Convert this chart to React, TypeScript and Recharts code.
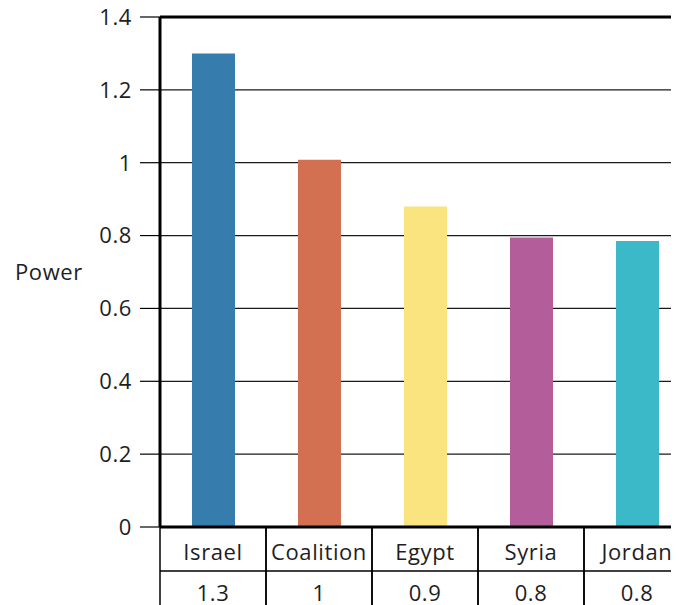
import React from 'react';
import { BarChart, Bar, XAxis, YAxis, CartesianGrid, ReferenceLine, Cell } from 'recharts';

const countries = ['Israel', 'Coalition', 'Egypt', 'Syria', 'Jordan'];
const power = [1.3, 1.008, 0.88, 0.795, 0.785];
const barColors = ['#367DAD', '#D37051', '#FAE480', '#B35E9A', '#3CB9C8'];
const yTicks = [0, 0.2, 0.4, 0.6, 0.8, 1, 1.2, 1.4];

const data = countries.map((name, i) => ({ name, power: power[i] }));

const FONT = "'Open Sans', 'DejaVu Sans', sans-serif";
const TEXT = { fontSize: 22, fontFamily: FONT, fill: '#1e1e1e', letterSpacing: 0.6 };
const CHART_W = 700;
const CHART_H = 620;
const MARGIN = { top: 17, right: 10, bottom: 0, left: 0 };
const Y_AXIS_W = 160;
const PLOT_W = CHART_W - MARGIN.left - MARGIN.right - Y_AXIS_W;
const TABLE_H = 93;

// table cell under each bar: name row + value row
const TableTick = (props: any) => {
  const { x, y, payload } = props;
  const band = PLOT_W / countries.length;
  const left = x - band / 2;
  const right = x + band / 2;
  const v = power[payload.index];
  const label = Number(v.toFixed(1)).toString();
  return (
    <g>
      <line x1={left} y1={y} x2={left} y2={y + TABLE_H} stroke="#000" strokeWidth={1.5} />
      <line x1={right} y1={y} x2={right} y2={y + TABLE_H} stroke="#000" strokeWidth={1.5} />
      <line x1={left} y1={y + 44} x2={right} y2={y + 44} stroke="#000" strokeWidth={1.5} />
      <text x={x} y={y + 33} textAnchor="middle" {...TEXT}>
        {payload.value}
      </text>
      <text x={x} y={y + 74} textAnchor="middle" {...TEXT}>
        {label}
      </text>
    </g>
  );
};

export default function App() {
  // body keeps its 8px margin; the inner block is pulled back so the chart starts at page 0,0
  return (
    <div style={{ width: 671, height: 597, overflow: 'hidden', background: '#fff' }}>
      <div style={{ marginLeft: -8, marginTop: -8, width: CHART_W, height: CHART_H }}>
        <BarChart width={CHART_W} height={CHART_H} data={data} margin={MARGIN}>
          <CartesianGrid horizontal vertical={false} stroke="#1a1a1a" strokeWidth={1.2} />
          <XAxis
            dataKey="name"
            height={TABLE_H}
            axisLine={{ stroke: '#000', strokeWidth: 3 }}
            tickLine={false}
            tickSize={0}
            tickMargin={0}
            interval={0}
            tick={<TableTick />}
          />
          <YAxis
            width={Y_AXIS_W}
            domain={[0, 1.4]}
            ticks={yTicks}
            interval={0}
            axisLine={{ stroke: '#000', strokeWidth: 3 }}
            tickLine={{ stroke: '#000', strokeWidth: 1.2 }}
            tickSize={20}
            tickMargin={8}
            tick={TEXT}
            label={{ value: 'Power', position: 'insideLeft', offset: 15, ...TEXT }}
          />
          <ReferenceLine y={1.4} stroke="#000" strokeWidth={3} />
          <Bar dataKey="power" barSize={43} isAnimationActive={false}>
            {data.map((d, i) => (
              <Cell key={d.name} fill={barColors[i]} />
            ))}
          </Bar>
        </BarChart>
      </div>
    </div>
  );
}
